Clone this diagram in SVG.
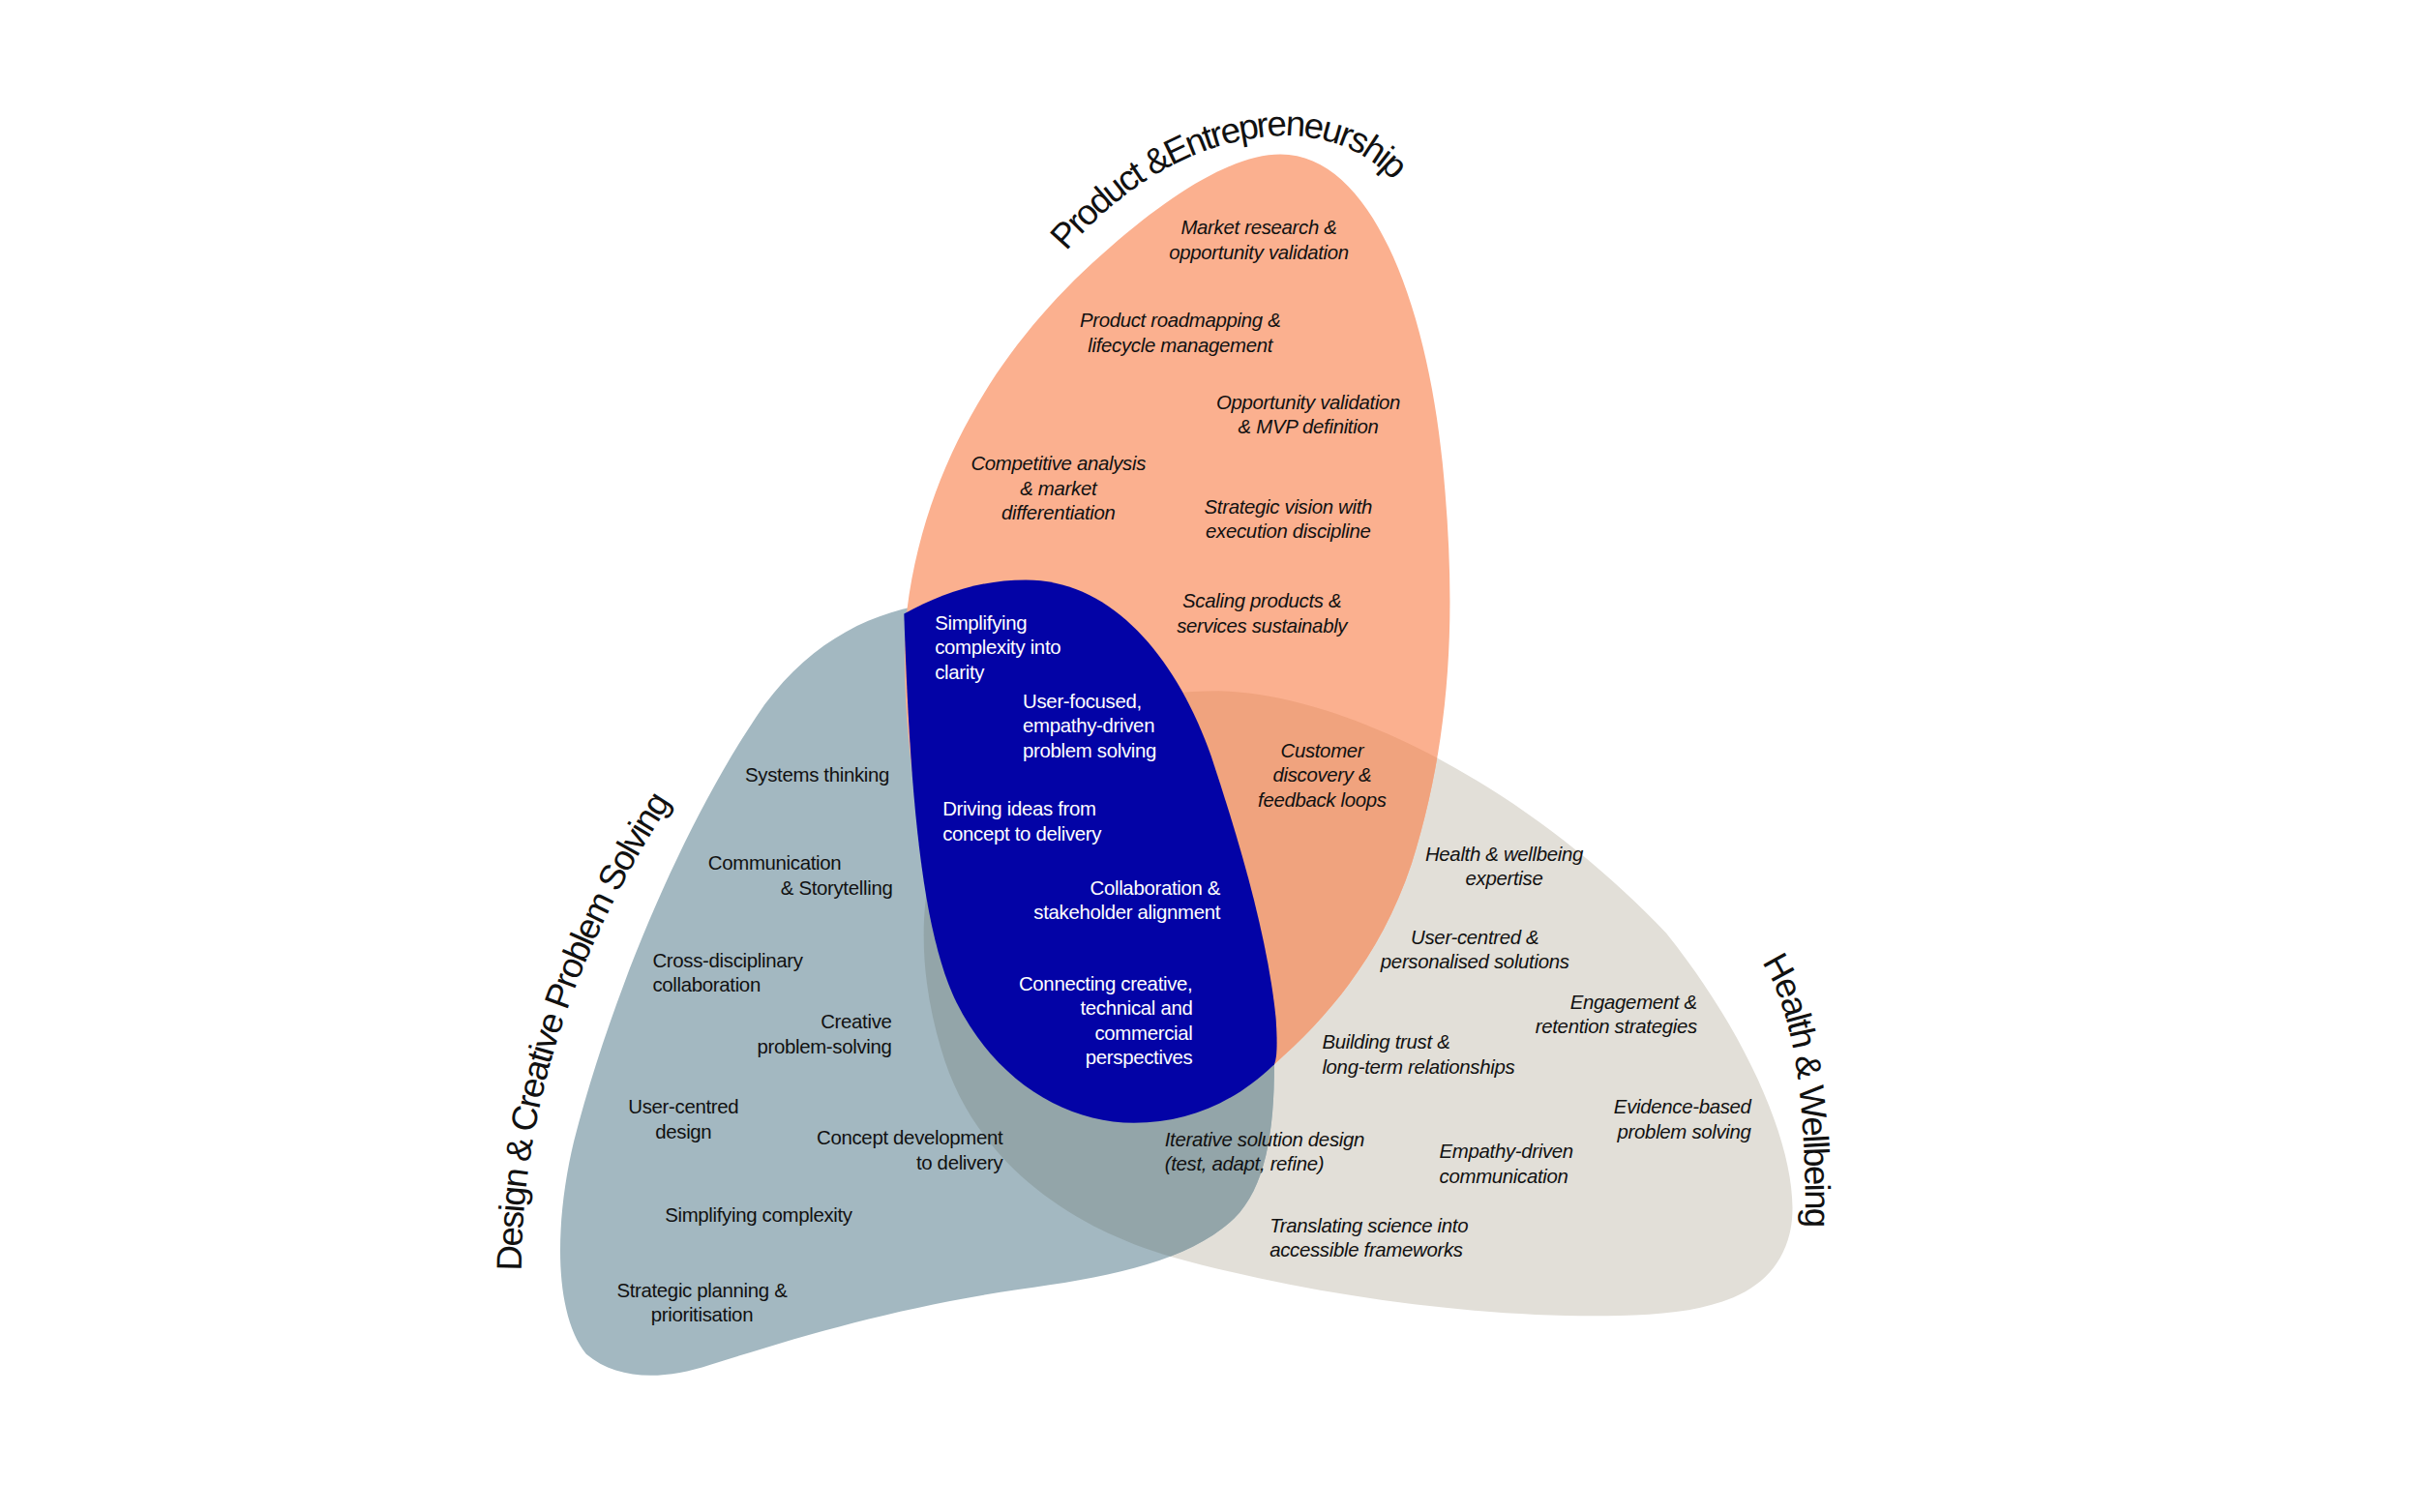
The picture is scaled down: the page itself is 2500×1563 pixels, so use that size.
<svg xmlns="http://www.w3.org/2000/svg" width="2500" height="1563" viewBox="0 0 2500 1563">
<defs>
  <style>
    .t{font-family:"Liberation Sans",Arial,Helvetica,sans-serif;font-size:12.8px;fill:#111;letter-spacing:-0.2px}
    .i{font-style:italic}
    .w{fill:#fff}
    .ttl{font-family:"Liberation Sans",Arial,Helvetica,sans-serif;font-size:23px;fill:#111;letter-spacing:-1.1px}
    .ttlp{letter-spacing:-1.4px}
    .m{text-anchor:middle}
    .e{text-anchor:end}
  </style>
  <path id="pOrange" d="M830,100 C890,100 925,200 935,300 C945,400 940,480 915,560 C895,620 860,660 826,690 C760,720 660,690 615,600 C590,540 583,440 588,395 C600,300 650,220 720,160 C760,125 800,100 830,100 Z"/>
  <path id="pDesign" d="M600,392 C560,398 520,420 490,465 C440,540 395,650 372,740 C360,790 358,850 380,878 C400,895 430,895 460,885 C520,866 580,848 660,836 C720,828 770,818 800,790 C820,770 826,735 826,690 C800,600 720,440 600,392 Z"/>
  <path id="pHealth" d="M620,520 C660,470 720,448 790,448 C880,450 1000,520 1080,605 C1140,680 1170,760 1160,800 C1150,840 1110,852 1050,853 C960,855 850,840 760,815 C690,795 630,750 610,680 C595,630 592,570 620,520 Z"/>
  <path id="pCore" d="M586,398 C610,385 635,376 665,376 C720,376 762,425 785,490 C805,550 822,610 827,660 C828,675 828,685 826,690 C800,715 770,728 735,728 C690,728 645,700 620,650 C598,605 590,520 586,398 Z"/>
  <clipPath id="cOrange"><use href="#pOrange"/></clipPath>
  <clipPath id="cDesign"><use href="#pDesign"/></clipPath>
  <path id="arcProduct" d="M691,163 C735,112 788,87 838,88 C873,90 899,106 915,134"/>
  <path id="arcDesign" d="M338,824 C338,720 372,612 443,508"/>
  <path id="arcHealth" d="M1142,624 C1162,654 1172,712 1170,812"/>
</defs>
<rect width="2500" height="1563" fill="#ffffff"/>
<g transform="scale(1.59439)">
  <g id="shapes">
    <use id="health-shape" href="#pHealth" fill="#E2DFD8"/>
    <use id="design-shape" href="#pDesign" fill="#A3B8C1"/>
    <use id="product-shape" href="#pOrange" fill="#FBB08F"/>
    <use id="product-health-overlap" href="#pHealth" fill="#F0A37E" clip-path="url(#cOrange)"/>
    <use id="design-health-overlap" href="#pHealth" fill="#93A5A9" clip-path="url(#cDesign)"/>
    <use id="core-shape" href="#pCore" fill="#0303A6"/>
  </g>

  <g id="titles">
    <text class="ttl ttlp"><textPath href="#arcProduct">Product &amp;Entrepreneurship</textPath></text>
    <text class="ttl"><textPath href="#arcDesign">Design &amp; Creative Problem Solving</textPath></text>
    <text class="ttl"><textPath href="#arcHealth">Health &amp; Wellbeing</textPath></text>
  </g>

  <g id="product">
    <text class="t i m" x="816" y="152"><tspan x="816">Market research &amp;</tspan><tspan x="816" dy="16">opportunity validation</tspan></text>
    <text class="t i m" x="765" y="212"><tspan x="765">Product roadmapping &amp;</tspan><tspan x="765" dy="16">lifecycle management</tspan></text>
    <text class="t i m" x="848" y="265"><tspan x="848">Opportunity validation</tspan><tspan x="848" dy="16">&amp; MVP definition</tspan></text>
    <text class="t i m" x="686" y="305"><tspan x="686">Competitive analysis</tspan><tspan x="686" dy="16">&amp; market</tspan><tspan x="686" dy="16">differentiation</tspan></text>
    <text class="t i m" x="835" y="333"><tspan x="835">Strategic vision with</tspan><tspan x="835" dy="16">execution discipline</tspan></text>
    <text class="t i m" x="818" y="394"><tspan x="818">Scaling products &amp;</tspan><tspan x="818" dy="16">services sustainably</tspan></text>
    <text class="t i m" x="857" y="491"><tspan x="857">Customer</tspan><tspan x="857" dy="16">discovery &amp;</tspan><tspan x="857" dy="16">feedback loops</tspan></text>
  </g>

  <g id="health">
    <text class="t i m" x="975" y="558"><tspan x="975">Health &amp; wellbeing</tspan><tspan x="975" dy="16">expertise</tspan></text>
    <text class="t i m" x="956" y="612"><tspan x="956">User-centred &amp;</tspan><tspan x="956" dy="16">personalised solutions</tspan></text>
    <text class="t i e" x="1100" y="654"><tspan x="1100">Engagement &amp;</tspan><tspan x="1100" dy="16">retention strategies</tspan></text>
    <text class="t i" x="857" y="680"><tspan x="857">Building trust &amp;</tspan><tspan x="857" dy="16">long-term relationships</tspan></text>
    <text class="t i e" x="1135" y="722"><tspan x="1135">Evidence-based</tspan><tspan x="1135" dy="16">problem solving</tspan></text>
    <text class="t i" x="933" y="751"><tspan x="933">Empathy-driven</tspan><tspan x="933" dy="16">communication</tspan></text>
    <text class="t i" x="755" y="743"><tspan x="755">Iterative solution design</tspan><tspan x="755" dy="16">(test, adapt, refine)</tspan></text>
    <text class="t i" x="823" y="799"><tspan x="823">Translating science into</tspan><tspan x="823" dy="16">accessible frameworks</tspan></text>
  </g>

  <g id="design">
    <text class="t" x="483" y="507">Systems thinking</text>
    <text class="t" x="459" y="564"><tspan x="459">Communication</tspan><tspan x="506" dy="16">&amp; Storytelling</tspan></text>
    <text class="t" x="423" y="627"><tspan x="423">Cross-disciplinary</tspan><tspan x="423" dy="16">collaboration</tspan></text>
    <text class="t e" x="578" y="667"><tspan x="578">Creative</tspan><tspan x="578" dy="16">problem-solving</tspan></text>
    <text class="t m" x="443" y="722"><tspan x="443">User-centred</tspan><tspan x="443" dy="16">design</tspan></text>
    <text class="t e" x="650" y="742"><tspan x="650">Concept development</tspan><tspan x="650" dy="16">to delivery</tspan></text>
    <text class="t" x="431" y="792">Simplifying complexity</text>
    <text class="t m" x="455" y="841"><tspan x="455">Strategic planning &amp;</tspan><tspan x="455" dy="16">prioritisation</tspan></text>
  </g>

  <g id="core">
    <text class="t w" x="606" y="408"><tspan x="606">Simplifying</tspan><tspan x="606" dy="16">complexity into</tspan><tspan x="606" dy="16">clarity</tspan></text>
    <text class="t w" x="663" y="459"><tspan x="663">User-focused,</tspan><tspan x="663" dy="16">empathy-driven</tspan><tspan x="663" dy="16">problem solving</tspan></text>
    <text class="t w" x="611" y="529"><tspan x="611">Driving ideas from</tspan><tspan x="611" dy="16">concept to delivery</tspan></text>
    <text class="t w e" x="791" y="580"><tspan x="791">Collaboration &amp;</tspan><tspan x="791" dy="16">stakeholder alignment</tspan></text>
    <text class="t w e" x="773" y="642"><tspan x="773">Connecting creative,</tspan><tspan x="773" dy="16">technical and</tspan><tspan x="773" dy="16">commercial</tspan><tspan x="773" dy="16">perspectives</tspan></text>
  </g>
</g>
</svg>
